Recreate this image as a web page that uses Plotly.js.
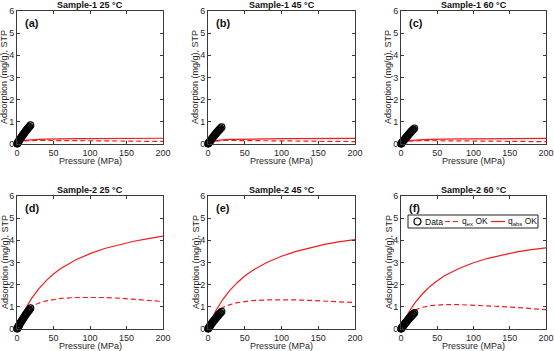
<!DOCTYPE html>
<html><head><meta charset="utf-8">
<script src="https://cdn.plot.ly/plotly-3.0.1.min.js"></script>
<style>html,body{margin:0;padding:0;background:#fff}#chart{width:554px;height:351px}</style>
</head><body><div id="chart"></div>
<script>
// Panel titles and labels
const panelTitles = ["Sample-1 25 °C","Sample-1 45 °C","Sample-1 60 °C","Sample-2 25 °C","Sample-2 45 °C","Sample-2 60 °C"];
const panelLabels = ["(a)","(b)","(c)","(d)","(e)","(f)"];
const xTitle = "Pressure (MPa)";
const yTitle = "Adsorption (mg/g), STP";
const legendLabels = ["Data","q<sub>ex</sub> OK","q<sub>abs</sub> OK"];

// Measured data pressures (MPa)
const dataP = [0.2,0.5,1,1.5,2,2.5,3,4,5,6,7,8,9,10,11,12,13,14,15,16,17,18.5];
const data_s1_25 = [0.01,0.03,0.05,0.08,0.11,0.13,0.16,0.21,0.26,0.31,0.36,0.41,0.45,0.50,0.54,0.59,0.63,0.67,0.71,0.75,0.79,0.85];
const data_s1_45 = [0.01,0.03,0.05,0.07,0.09,0.12,0.14,0.18,0.23,0.27,0.32,0.36,0.40,0.44,0.48,0.52,0.56,0.60,0.63,0.67,0.71,0.76];
const data_s1_60 = [0.01,0.02,0.04,0.07,0.09,0.11,0.13,0.17,0.21,0.25,0.29,0.33,0.37,0.41,0.45,0.48,0.52,0.56,0.59,0.63,0.66,0.71];
const data_s2_25 = [0.01,0.03,0.06,0.09,0.12,0.15,0.18,0.24,0.29,0.35,0.40,0.45,0.50,0.55,0.60,0.65,0.70,0.74,0.79,0.83,0.87,0.94];
const data_s2_45 = [0.01,0.03,0.05,0.08,0.10,0.13,0.15,0.20,0.25,0.29,0.34,0.38,0.42,0.46,0.50,0.54,0.58,0.62,0.66,0.70,0.73,0.79];
const data_s2_60 = [0.01,0.02,0.05,0.07,0.09,0.12,0.14,0.18,0.23,0.27,0.31,0.35,0.39,0.43,0.47,0.50,0.54,0.58,0.61,0.65,0.68,0.73];

// Model curves pressures (MPa)
const modelP = [0,2,5,10,15,20,30,40,50,60,80,100,120,140,160,180,200];
const qex_s1_25  = [0,0.05,0.10,0.14,0.15,0.16,0.16,0.16,0.16,0.15,0.15,0.14,0.14,0.13,0.13,0.12,0.12];
const qabs_s1_25 = [0,0.06,0.11,0.16,0.18,0.20,0.21,0.22,0.23,0.23,0.24,0.24,0.25,0.25,0.25,0.26,0.26];
const qex_s1_45  = [0,0.05,0.09,0.13,0.15,0.16,0.16,0.16,0.15,0.15,0.14,0.14,0.13,0.13,0.12,0.12,0.11];
const qabs_s1_45 = [0,0.05,0.10,0.15,0.18,0.19,0.21,0.22,0.22,0.23,0.23,0.24,0.24,0.24,0.25,0.25,0.25];
const qex_s1_60  = [0,0.04,0.09,0.13,0.14,0.15,0.15,0.15,0.15,0.14,0.14,0.13,0.13,0.12,0.12,0.11,0.11];
const qabs_s1_60 = [0,0.05,0.10,0.15,0.17,0.19,0.20,0.21,0.22,0.22,0.23,0.23,0.24,0.24,0.24,0.25,0.25];
const qex_s2_25  = [0,0.18,0.42,0.72,0.90,1.02,1.17,1.27,1.33,1.38,1.42,1.43,1.42,1.39,1.34,1.29,1.24];
const qabs_s2_25 = [0,0.19,0.45,0.82,1.12,1.38,1.82,2.18,2.48,2.73,3.11,3.40,3.63,3.81,3.96,4.08,4.19];
const qex_s2_45  = [0,0.17,0.40,0.68,0.86,0.97,1.10,1.19,1.24,1.28,1.31,1.32,1.31,1.29,1.26,1.23,1.19];
const qabs_s2_45 = [0,0.18,0.43,0.79,1.08,1.33,1.75,2.10,2.39,2.63,3.00,3.28,3.50,3.68,3.83,3.94,4.03];
const qex_s2_60  = [0,0.15,0.36,0.61,0.77,0.87,0.98,1.05,1.08,1.10,1.10,1.08,1.05,1.01,0.97,0.92,0.87];
const qabs_s2_60 = [0,0.16,0.39,0.72,0.98,1.21,1.60,1.92,2.18,2.40,2.73,2.99,3.19,3.35,3.48,3.58,3.66];

const xTicks = [0,50,100,150,200];
const yTicks = [0,1,2,3,4,5,6];

const dataSets = [data_s1_25,data_s1_45,data_s1_60,data_s2_25,data_s2_45,data_s2_60];
const qexSets  = [qex_s1_25,qex_s1_45,qex_s1_60,qex_s2_25,qex_s2_45,qex_s2_60];
const qabsSets = [qabs_s1_25,qabs_s1_45,qabs_s1_60,qabs_s2_25,qabs_s2_45,qabs_s2_60];

const W = 554, H = 351;
const px = v => v / W, py = v => 1 - v / H;
const xPx = [[17,163],[208,355],[401,546]];
const yPx = [[11,144],[196,329]];
const FONT = '"Liberation Sans", Arial, Helvetica, sans-serif';
const AX = '#3a3a3a';
const TXT = '#262626';
const RED = '#f01c1c';
const DASH = '5px,3px';

const traces = [];
const layout = {
  width: W, height: H,
  margin: {l:0,r:0,t:0,b:0},
  paper_bgcolor: '#fff', plot_bgcolor: '#fff',
  font: {family: FONT, size: 9, color: TXT},
  showlegend: false,
  annotations: [], shapes: []
};

for (let i = 0; i < 6; i++) {
  const col = i % 3, row = Math.floor(i / 3);
  const xa = i === 0 ? 'x' : 'x' + (i + 1);
  const ya = i === 0 ? 'y' : 'y' + (i + 1);
  const xk = i === 0 ? 'xaxis' : 'xaxis' + (i + 1);
  const yk = i === 0 ? 'yaxis' : 'yaxis' + (i + 1);
  const [xl, xr] = xPx[col], [yt, yb] = yPx[row];
  traces.push({x: modelP, y: qexSets[i], xaxis: xa, yaxis: ya, mode: 'lines', name: legendLabels[1],
    line: {color: RED, width: 1.2, dash: DASH}});
  traces.push({x: modelP, y: qabsSets[i], xaxis: xa, yaxis: ya, mode: 'lines', name: legendLabels[2],
    line: {color: RED, width: 1.2}});
  traces.push({x: dataP, y: dataSets[i], xaxis: xa, yaxis: ya, mode: 'markers', name: legendLabels[0],
    marker: {symbol: 'circle-open', size: 6.5, color: '#000', line: {width: 1.2, color: '#000'}},
    cliponaxis: false});
  layout[xk] = {domain: [px(xl), px(xr)], anchor: ya, range: [0,200], tickvals: xTicks, ticks: 'inside', ticklen: 3,
    tickcolor: AX, showline: true, linecolor: AX, linewidth: 1, mirror: 'ticks', showgrid: false, zeroline: false,
    tickfont: {size: 9, color: TXT}, fixedrange: true, automargin: false};
  layout[yk] = {domain: [py(yb), py(yt)], anchor: xa, range: [0,6], tickvals: yTicks, ticks: 'inside', ticklen: 3,
    tickcolor: AX, showline: true, linecolor: AX, linewidth: 1, mirror: 'ticks', showgrid: false, zeroline: false,
    tickfont: {size: 9, color: TXT}, fixedrange: true, automargin: false};
  // panel title
  layout.annotations.push({text: '<b>' + panelTitles[i] + '</b>', xref: 'paper', yref: 'paper',
    x: px((xl + xr) / 2), y: py(yt - 6), xanchor: 'center', yanchor: 'middle', showarrow: false,
    font: {size: 9, color: '#111'}});
  // panel label
  layout.annotations.push({text: '<b>' + panelLabels[i] + '</b>', xref: 'paper', yref: 'paper',
    x: px(xl + 6), y: py(yt + 12), xanchor: 'left', yanchor: 'middle', showarrow: false,
    font: {size: 11, color: '#111'}});
  // axis titles
  layout.annotations.push({text: xTitle, xref: 'paper', yref: 'paper',
    x: px((xl + xr) / 2), y: py(yb + 17), xanchor: 'center', yanchor: 'middle', showarrow: false,
    font: {size: 9, color: TXT}});
  layout.annotations.push({text: yTitle, xref: 'paper', yref: 'paper', textangle: -90,
    x: px(xl - 12.5), y: py((yt + yb) / 2), xanchor: 'center', yanchor: 'middle', showarrow: false,
    font: {size: 9, color: TXT}});
}

// Legend (drawn in panel f)
const L = {x0: 408, x1: 538, y0: 215, y1: 228};
const ly = (L.y0 + L.y1) / 2;
layout.shapes.push({type: 'rect', xref: 'paper', yref: 'paper', x0: px(L.x0), x1: px(L.x1), y0: py(L.y1), y1: py(L.y0),
  line: {color: '#222', width: 1}, fillcolor: '#fff', layer: 'above'});
layout.shapes.push({type: 'circle', xref: 'paper', yref: 'paper', x0: px(414), x1: px(421), y0: py(ly + 3.5), y1: py(ly - 3.5),
  line: {color: '#000', width: 1.2}, layer: 'above'});
layout.shapes.push({type: 'line', xref: 'paper', yref: 'paper', x0: px(445), x1: px(459), y0: py(ly), y1: py(ly),
  line: {color: RED, width: 1.2, dash: DASH}, layer: 'above'});
layout.shapes.push({type: 'line', xref: 'paper', yref: 'paper', x0: px(491), x1: px(505), y0: py(ly), y1: py(ly),
  line: {color: RED, width: 1.2}, layer: 'above'});
const legX = [423, 460, 506];
for (let k = 0; k < 3; k++) {
  layout.annotations.push({text: legendLabels[k], xref: 'paper', yref: 'paper', x: px(legX[k]), y: py(ly),
    xanchor: 'left', yanchor: 'middle', showarrow: false, font: {size: 8.5, color: '#111'}});
}

Plotly.newPlot('chart', traces, layout, {staticPlot: true});
</script></body></html>
